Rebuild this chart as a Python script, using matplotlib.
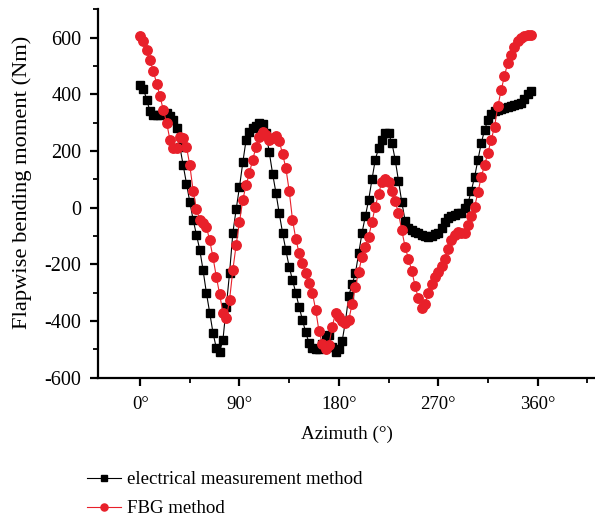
import matplotlib
matplotlib.use("agg")
import matplotlib.pyplot as plt
import numpy as np
from matplotlib.ticker import MultipleLocator, FuncFormatter

plt.rcParams.update({
    "font.family": ["Liberation Serif", "DejaVu Serif"],
    "font.size": 13,
    "axes.unicode_minus": False,
})

# ── data (3° steps) ─────────────────────────────────────────────────────
azimuth = np.arange(0, 357, 3)

electrical = [
    432, 420, 380, 340, 328, 326, 328, 333, 334, 325,
    310, 280, 215, 150, 85, 20, -42, -95, -148, -220,
    -300, -370, -441, -495, -508, -466, -350, -230, -88, -5,
    74, 160, 240, 268, 282, 290, 298, 295, 265, 195,
    120, 53, -20, -88, -150, -208, -255, -300, -350, -395,
    -440, -477, -495, -500, -500, -480, -455, -450, -490, -508,
    -500, -470, -400, -310, -270, -230, -160, -88, -30, 28,
    100, 170, 210, 240, 262, 262, 230, 170, 95, 20,
    -45, -72, -80, -85, -88, -95, -100, -102, -98, -92,
    -88, -70, -50, -35, -30, -25, -20, -18, 0, 17,
    60, 110, 170, 228, 275, 310, 330, 340, 346, 350,
    352, 355, 358, 362, 366, 370, 385, 400, 412,
]

fbg = [
    605, 590, 557, 520, 481, 438, 393, 345, 300, 240,
    210, 210, 250, 245, 215, 150, 60, -5, -42, -55,
    -67, -115, -175, -243, -305, -370, -390, -325, -219, -130,
    -50, 28, 80, 123, 170, 215, 250, 268, 255, 240,
    245, 252, 235, 190, 140, 60, -42, -110, -160, -195,
    -230, -265, -300, -360, -435, -480, -500, -485, -420, -370,
    -385, -400, -405, -395, -340, -278, -225, -172, -140, -102,
    -50, 4, 50, 92, 100, 92, 60, 25, -20, -80,
    -138, -180, -222, -275, -320, -355, -340, -300, -270, -243,
    -225, -205, -180, -145, -113, -95, -85, -88, -88, -60,
    -30, 4, 55, 110, 150, 194, 240, 286, 358, 415,
    465, 512, 540, 568, 588, 600, 605, 608, 610,
]

x_ticks = [0, 90, 180, 270, 360]
y_ticks = [-600, -400, -200, 0, 200, 400, 600]

C_BLACK = "#000000"
C_RED = "#e8202a"

# ── figure ─────────────────────────────────────────────────────────────
fig = plt.figure(figsize=(5.95, 5.19), dpi=100)
ax = fig.add_axes([0.165, 0.272, 0.835, 0.71])

ax.plot(azimuth, electrical, "-s", color=C_BLACK, lw=0.8, ms=6.4,
        mec=C_BLACK, mfc=C_BLACK, label="electrical measurement method")
ax.plot(azimuth, fbg, "-o", color=C_RED, lw=0.8, ms=6.8,
        mec=C_RED, mfc=C_RED, label="FBG method")

ax.set_xlim(-38, 412)
ax.set_ylim(-600, 700)
ax.set_xticks(x_ticks)
ax.xaxis.set_major_formatter(FuncFormatter(lambda v, p: f"{int(v)}°"))
ax.xaxis.set_minor_locator(MultipleLocator(45))
ax.set_yticks(y_ticks)
ax.yaxis.set_minor_locator(MultipleLocator(100))

for s in ("top", "right"):
    ax.spines[s].set_visible(False)
for s in ("left", "bottom"):
    ax.spines[s].set_linewidth(1.6)
ax.tick_params(which="major", direction="out", length=6, width=1.6, pad=6)
ax.tick_params(which="minor", direction="out", length=3.5, width=1.3)
ax.tick_params(axis="x", labelsize=13.5, pad=7)
ax.tick_params(axis="y", labelsize=14.5)

ax.set_xlabel("Azimuth (°)", fontsize=13.8, labelpad=9)
ax.set_ylabel("Flapwise bending moment (Nm)", fontsize=16.2)
ax.yaxis.set_label_coords(-0.133, 0.53)

fig.legend(loc="upper left", bbox_to_anchor=(0.146, 0.092),
           frameon=False, fontsize=13.6, handlelength=1.8,
           handletextpad=0.35, labelspacing=0.62, markerscale=0.75,
           borderaxespad=0, borderpad=0)

fig.savefig("out.png", dpi=100)
